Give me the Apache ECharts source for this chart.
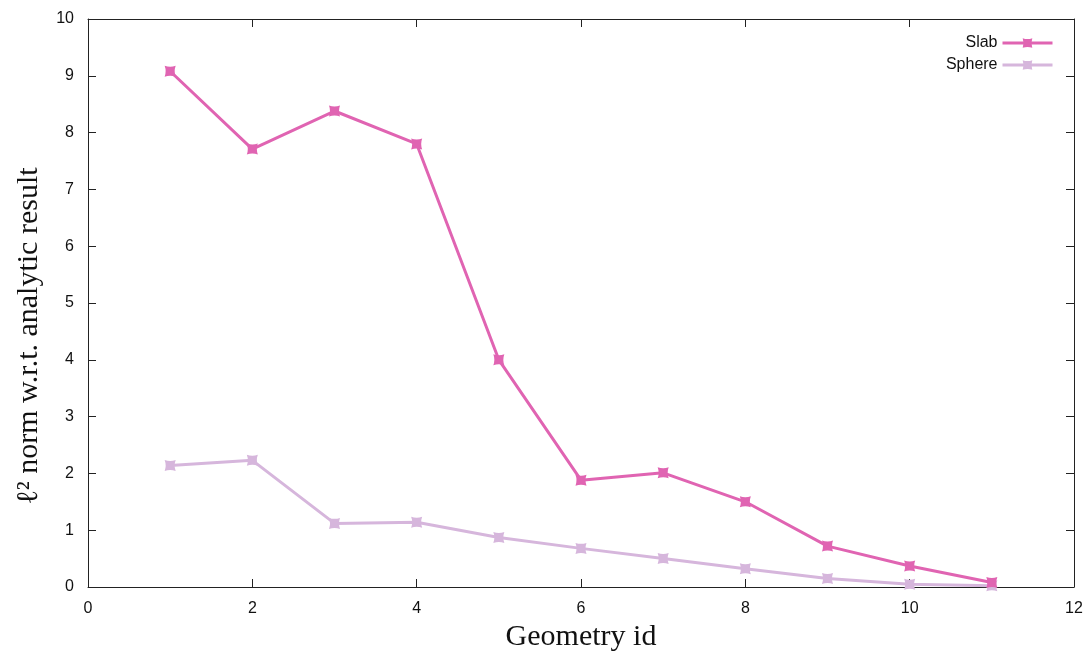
<!DOCTYPE html>
<html>
<head>
<meta charset="utf-8">
<script src="https://cdn.jsdelivr.net/npm/echarts@6/dist/echarts.min.js"></script>
<style>
  html, body { margin: 0; padding: 0; background: #fff; }
  #chart { width: 1091px; height: 657px; }
</style>
</head>
<body>
<div id="chart"></div>
<script>
// Geometry ids along the x axis
const geometryIds = [1, 2, 3, 4, 5, 6, 7, 8, 9, 10, 11];
// l2 error norms for each geometry
const slabValues = [9.08, 7.71, 8.38, 7.80, 4.00, 1.88, 2.01, 1.50, 0.72, 0.37, 0.08];
const sphereValues = [2.14, 2.23, 1.12, 1.14, 0.87, 0.68, 0.50, 0.32, 0.15, 0.05, 0.02];
const seriesNames = ['Slab', 'Sphere'];

const slabColor = '#e064b2';
const sphereColor = '#d6b6dc';
// square marker with slightly pinched sides
const markerPath = 'path://M0,0 Q5,1.8 10,0 Q8.2,5 10,10 Q5,8.2 0,10 Q1.8,5 0,0 Z';

const tickFont = { fontFamily: 'Liberation Sans, Arial, sans-serif', fontSize: 16, color: '#111' };
const titleFont = { fontFamily: 'Liberation Serif, DejaVu Serif, serif', fontSize: 30, color: '#111' };

function pairs(values) {
  return geometryIds.map((id, i) => [id, values[i]]);
}

const chart = echarts.init(document.getElementById('chart'));
chart.setOption({
  animation: false,
  backgroundColor: '#fff',
  grid: { left: 88, right: 17, top: 19, bottom: 70, containLabel: false },
  legend: {
    orient: 'vertical',
    right: 32,
    top: 30,
    align: 'right',
    itemWidth: 50,
    itemHeight: 12,
    itemGap: 6,
    textStyle: { fontFamily: 'Liberation Sans, Arial, sans-serif', fontSize: 16, color: '#111' },
    data: [
      { name: seriesNames[0], lineStyle: { width: 3, color: slabColor } },
      { name: seriesNames[1], lineStyle: { width: 3, color: sphereColor } }
    ]
  },
  xAxis: [
    {
      type: 'value', min: 0, max: 12, interval: 2,
      name: 'Geometry id', nameLocation: 'middle', nameGap: 34,
      nameTextStyle: titleFont,
      axisLine: { show: true, onZero: false, lineStyle: { color: '#222', width: 1 } },
      axisTick: { inside: true, length: 8, lineStyle: { color: '#222' } },
      axisLabel: Object.assign({ margin: 14 }, tickFont),
      splitLine: { show: false }
    },
    {
      type: 'value', min: 0, max: 12, interval: 2, position: 'top',
      axisLine: { show: true, onZero: false, lineStyle: { color: '#222', width: 1 } },
      axisTick: { inside: true, length: 8, lineStyle: { color: '#222' } },
      axisLabel: { show: false },
      splitLine: { show: false }
    }
  ],
  yAxis: [
    {
      type: 'value', min: 0, max: 10, interval: 1,
      name: 'ℓ² norm w.r.t. analytic result', nameLocation: 'middle', nameGap: 44,
      nameTextStyle: Object.assign({ padding: [0, 66, 0, 0] }, titleFont),
      axisLine: { show: true, onZero: false, lineStyle: { color: '#222', width: 1 } },
      axisTick: { inside: true, length: 8, lineStyle: { color: '#222' } },
      axisLabel: Object.assign({ margin: 14 }, tickFont),
      splitLine: { show: false }
    },
    {
      type: 'value', min: 0, max: 10, interval: 1, position: 'right',
      axisLine: { show: true, onZero: false, lineStyle: { color: '#222', width: 1 } },
      axisTick: { inside: true, length: 8, lineStyle: { color: '#222' } },
      axisLabel: { show: false },
      splitLine: { show: false }
    }
  ],
  series: [
    {
      name: seriesNames[0], type: 'line', data: pairs(slabValues),
      xAxisIndex: 0, yAxisIndex: 0,
      symbol: markerPath, symbolSize: 11,
      lineStyle: { color: slabColor, width: 3 },
      itemStyle: { color: slabColor },
      z: 3
    },
    {
      name: seriesNames[1], type: 'line', data: pairs(sphereValues),
      xAxisIndex: 0, yAxisIndex: 0,
      symbol: markerPath, symbolSize: 11,
      lineStyle: { color: sphereColor, width: 3 },
      itemStyle: { color: sphereColor },
      z: 2
    }
  ]
});
</script>
</body>
</html>
